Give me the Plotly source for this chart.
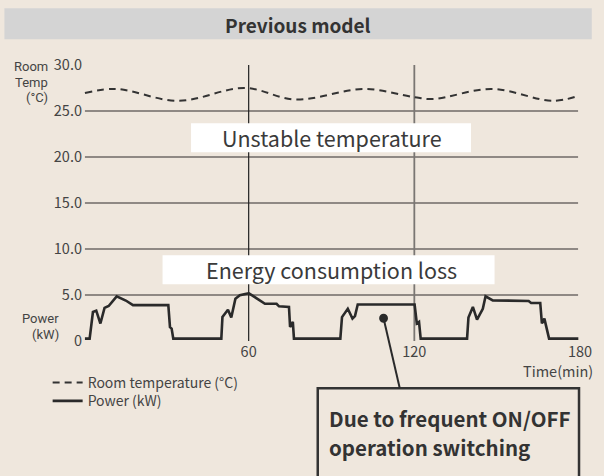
import plotly.graph_objects as go

# ---- data ----
temp_time = [0.7, 12, 34.5, 58.5, 77, 102, 120, 127, 148, 170, 179]
temp_vals = [26.95, 27.4, 26.1, 27.5, 26.25, 27.4, 26.5, 26.3, 27.4, 26.1, 26.6]

power_time = [0.7, 2.4, 3.6, 4.8, 6.3, 7.8, 9.3, 12.2, 15.5, 18.1, 30.9, 31.5, 32.1, 32.7,
              50.1, 50.5, 52.5, 53.7, 55.2, 56.8, 59.6, 60, 65.9, 70.1, 71, 74.6, 75, 76, 76.4,
              93.2, 93.8, 95.9, 97.6, 98.5, 99.5, 119.9, 120.1, 120.9, 121.7, 122.3,
              139.1, 139.6, 141.2, 142.7, 144.8, 145.8, 148.4, 161.4, 162.3, 165.6, 166.2, 167.1, 168.8, 179.4]
power_vals = [0.26, 0.26, 3.15, 3.3, 1.9, 3.6, 3.8, 4.85, 4.4, 3.9, 3.9, 1.5, 1.35, 0.26,
              0.26, 2.6, 3.4, 2.55, 4.6, 4.97, 5.15, 5.2, 4.05, 4.05, 3.77, 3.7, 1.52, 2.07, 0.26,
              0.26, 2.6, 3.5, 2.43, 2.7, 3.96, 3.96, 3.96, 1.9, 2.07, 0.26,
              0.26, 2.55, 3.7, 2.33, 3.5, 4.86, 4.42, 4.35, 4.13, 4.13, 1.9, 2.43, 0.26, 0.26]

y_ticks = [0, 5, 10, 15, 20, 25, 30]
y_tick_labels = ["0", "5.0", "10.0", "15.0", "20.0", "25.0", "30.0"]
x_ticks = [60, 120, 180]
x_tick_labels = ["60", "120", "180"]
grid_levels = [5, 10, 15, 20, 25]
vline_times = [60, 120]

# ---- layout geometry (pixels) ----
W, H = 604, 476
L, R = 83, 589
T, B = 64.7, 340.7
FONT = "Noto Sans CJK JP"
SMALL_FONT = "Roboto"
BG = "#EFE7DD"
TXT = "#3a3a3a"
LBL = "#444444"

def px(xp):
    return (xp - L) / (R - L)

def py(yp):
    return (B - yp) / (B - T)

fig = go.Figure()
fig.add_trace(go.Scatter(x=temp_time, y=temp_vals, mode="lines", name="Room temperature (°C)",
                         legend="legend",
                         line=dict(color="#333333", width=2, dash="7px,5px", shape="spline", smoothing=1.0)))
fig.add_trace(go.Scatter(x=power_time, y=power_vals, mode="lines", name="Power (kW)",
                         legend="legend2",
                         line=dict(color="#2a2a2a", width=2.6)))

shapes = []
for g in grid_levels:
    shapes.append(dict(type="line", xref="x", yref="y", x0=0.7, x1=179.3, y0=g, y1=g,
                       line=dict(color="#6f6a66", width=1.5), layer="below"))
shapes.append(dict(type="line", xref="x", yref="y", x0=vline_times[0], x1=vline_times[0], y0=0, y1=30,
                   line=dict(color="#222222", width=1.2), layer="below"))
shapes.append(dict(type="line", xref="x", yref="y", x0=vline_times[1], x1=vline_times[1], y0=0, y1=30,
                   line=dict(color="#7a7673", width=1.8), layer="below"))
# header band
shapes.append(dict(type="rect", xref="paper", yref="paper", x0=px(3), x1=px(601), y0=py(39), y1=py(8),
                   fillcolor="#D4D4D4", line=dict(width=0), layer="below"))
# white label boxes
shapes.append(dict(type="rect", xref="paper", yref="paper", x0=px(193), x1=px(478), y0=py(152), y1=py(123),
                   fillcolor="white", line=dict(width=0), layer="above"))
shapes.append(dict(type="rect", xref="paper", yref="paper", x0=px(164), x1=px(502), y0=py(284), y1=py(255),
                   fillcolor="white", line=dict(width=0), layer="above"))
# callout box and pointer
shapes.append(dict(type="rect", xref="paper", yref="paper", x0=px(322), x1=px(588), y0=py(482), y1=py(388),
                   fillcolor="rgba(0,0,0,0)", line=dict(color="#333333", width=2.5)))
shapes.append(dict(type="line", xref="paper", yref="paper", x0=px(389), x1=px(405.5), y0=py(318), y1=py(388),
                   line=dict(color="#2a2a2a", width=2)))
shapes.append(dict(type="circle", xref="paper", yref="paper", x0=px(384.5), x1=px(393.5), y0=py(322.5), y1=py(313.5),
                   fillcolor="#2a2a2a", line=dict(width=0)))

def ann(text, x, y, size=14, xanchor="center", bold=False, color=TXT, family=FONT, pad=1):
    return dict(text=f"<b>{text}</b>" if bold else text, xref="paper", yref="paper",
                x=px(x), y=py(y), xanchor=xanchor, yanchor="middle", showarrow=False,
                borderpad=pad, font=dict(family=family, size=size, color=color))

annotations = [
    ann("Previous model", 302, 24, size=19, bold=True, color="#333333"),
    ann("Unstable temperature", 336, 137.5, size=21.5),
    ann("Energy consumption loss", 336, 269.5, size=21.5),
    ann("Room", 48.5, 66.5, size=13, xanchor="right", color=LBL, family=SMALL_FONT, pad=0),
    ann("Temp", 48.5, 82, size=13, xanchor="right", color=LBL, family=SMALL_FONT, pad=0),
    ann("(°C)", 48.5, 97.5, size=13, xanchor="right", color=LBL, family=SMALL_FONT, pad=0),
    ann("Power", 59.5, 318.5, size=13, xanchor="right", color=LBL, family=SMALL_FONT, pad=0),
    ann("(kW)", 59.5, 334, size=13, xanchor="right", color=LBL, family=SMALL_FONT, pad=0),
    ann("Time(min)", 604, 370.5, size=14.5, xanchor="right", color=LBL),
    ann("Due to frequent ON/OFF", 331, 418, size=20.5, xanchor="left", bold=True, color="#333333"),
    ann("operation switching", 331, 446.5, size=20.5, xanchor="left", bold=True, color="#333333"),
]

leg_common = dict(xanchor="left", yanchor="middle", bgcolor="rgba(0,0,0,0)",
                  font=dict(family=FONT, size=14, color=LBL), itemwidth=30, borderwidth=0)

fig.update_layout(
    width=W, height=H,
    margin=dict(l=L, r=W - R, t=T, b=H - B, pad=0),
    paper_bgcolor=BG, plot_bgcolor=BG,
    shapes=shapes, annotations=annotations,
    showlegend=True,
    legend=dict(x=px(47), y=py(382.5), **leg_common),
    legend2=dict(x=px(47), y=py(401), **leg_common),
    font=dict(family=FONT, size=14.5, color=LBL),
)
fig.update_xaxes(range=[0, 180], showgrid=False, zeroline=False, showline=False, ticks="",
                 tickvals=x_ticks, ticktext=x_tick_labels, tickfont=dict(family=FONT, size=14.5, color=LBL))
fig.update_yaxes(range=[0, 30], showgrid=False, zeroline=False, showline=False, ticks="",
                 tickvals=y_ticks, ticktext=y_tick_labels, tickfont=dict(family=FONT, size=14.5, color=LBL))

fig.write_html("out.html", config={"displayModeBar": False},
               post_script="document.body.style.margin='0';document.body.style.background='" + BG + "';")
